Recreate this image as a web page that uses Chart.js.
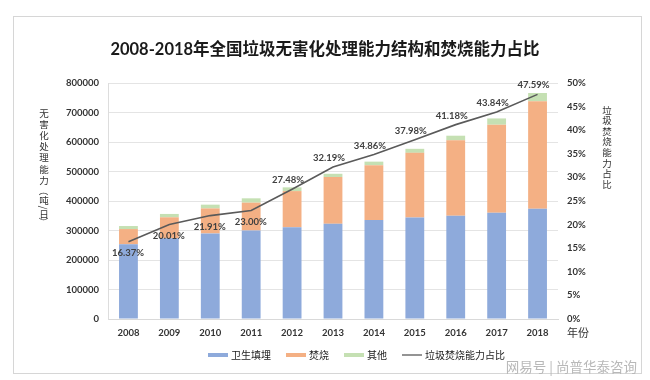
<!DOCTYPE html>
<html><head><meta charset="utf-8">
<script src="https://cdn.jsdelivr.net/npm/chart.js@4.4.1/dist/chart.umd.min.js"></script>
<style>html,body{margin:0;padding:0;background:#fff}canvas{display:block}</style>
</head><body>
<canvas id="c" width="650" height="380"></canvas>
<script>
// ---- data ----
const years = ['2008','2009','2010','2011','2012','2013','2014','2015','2016','2017','2018'];
const landfill = [253268, 273498, 289957, 300195, 310927, 322782, 335316, 344135, 349751, 360524, 373498];
const incineration = [51606, 71253, 84940, 94114, 122649, 158488, 185957, 219080, 255850, 298062, 364595];
const other = [10279, 11379, 12710, 14810, 12692, 11030, 12182, 13679, 15750, 21303, 28102];
const ratio = [16.37, 20.01, 21.91, 23.00, 27.48, 32.19, 34.86, 37.98, 41.18, 43.84, 47.59];
const seriesNames = ['卫生填埋', '焚烧', '其他', '垃圾焚烧能力占比'];
const chartTitle = '2008-2018年全国垃圾无害化处理能力结构和焚烧能力占比';
const leftAxisTitle = '无害化处理能力（吨/日）';
const rightAxisTitle = '垃圾焚烧能力占比';
const xAxisTitle = '年份';
const watermark = '网易号 | 尚普华泰咨询';

// ---- styles ----
const BLUE = '#8eaadb', ORANGE = '#f4b084', GREEN = '#c5e0b3', LINE = '#5a5a5a';
const CJK = "'Noto Sans CJK SC'";
const LAT = "Lato, 'Noto Sans CJK SC'";
const TXT = '#333333';

const decor = {
  id: 'decor',
  afterDraw(chart) {
    const c = chart.ctx;
    c.save();
    // outer frame
    c.strokeStyle = '#d6d6d6'; c.lineWidth = 1;
    c.strokeRect(13.5, 16.5, 628, 357);

    // left vertical axis title (upright stacked characters)
    c.fillStyle = TXT; c.textAlign = 'center'; c.textBaseline = 'middle';
    c.font = `9.5px ${CJK}`;
    const lpos = [113, 124.2, 135.4, 146.6, 157.8, 169, 180.2, 191, 200.5, 207.5, 214, 222];
    [...leftAxisTitle].forEach((ch, i) => {
      if (ch === '（' || ch === '）' || ch === '/') {
        c.save();
        c.translate(44, lpos[i]);
        c.rotate(Math.PI / 2);
        c.fillText(ch, 0, 0);
        c.restore();
      } else {
        c.fillText(ch, 44, lpos[i]);
      }
    });
    // right vertical axis title
    [...rightAxisTitle].forEach((ch, i) => {
      c.fillText(ch, 607, 110 + i * 10.6);
    });
    // x axis unit
    c.font = `11px ${CJK}`;
    c.fillText(xAxisTitle, 578, 333);

    // line value labels
    const meta = chart.getDatasetMeta(3);
    c.font = `bold 9.5px ${LAT}`; c.fillStyle = '#404040';
    meta.data.forEach((pt, i) => {
      const txt = ratio[i].toFixed(2) + '%';
      if (i < 4) c.fillText(txt, pt.x - 0.5, pt.y + 11);
      else c.fillText(txt, pt.x - 4, pt.y - 9);
    });

    // legend
    const colors = [BLUE, ORANGE, GREEN, LINE];
    let x = 208; const y = 355;
    c.font = `10px ${CJK}`; c.textAlign = 'left'; c.textBaseline = 'middle';
    seriesNames.forEach((name, i) => {
      if (i === 3) {
        c.strokeStyle = LINE; c.lineWidth = 1.3;
        c.beginPath(); c.moveTo(x, y); c.lineTo(x + 20, y); c.stroke();
      } else {
        c.fillStyle = colors[i]; c.fillRect(x, y - 2, 20, 4);
      }
      x += 23;
      c.fillStyle = '#222';
      c.fillText(name, x, y);
      x += c.measureText(name).width + 15;
    });

    // watermark
    c.font = `13.5px ${CJK}`; c.fillStyle = '#b8b8b8'; c.textAlign = 'right';
    c.fillText(watermark, 637, 367);
    c.restore();
  }
};

new Chart(document.getElementById('c'), {
  type: 'bar',
  data: {
    labels: years,
    datasets: [
      {label: seriesNames[0], data: landfill, backgroundColor: BLUE, order: 1, categoryPercentage: 0.5, barPercentage: 0.92},
      {label: seriesNames[1], data: incineration, backgroundColor: ORANGE, order: 1, categoryPercentage: 0.5, barPercentage: 0.92},
      {label: seriesNames[2], data: other, backgroundColor: GREEN, order: 1, categoryPercentage: 0.5, barPercentage: 0.92},
      {type: 'line', label: seriesNames[3], data: ratio, yAxisID: 'y1', borderColor: LINE, borderWidth: 1.6,
       pointRadius: 0, tension: 0, fill: false, order: 0}
    ]
  },
  options: {
    responsive: false, animation: false,
    layout: {padding: {left: 0, right: 0, top: 0, bottom: 41}},
    plugins: {
      legend: {display: false},
      tooltip: {enabled: false},
      title: {display: true, text: chartTitle, color: '#1a1a1a',
        font: {family: LAT, size: 16.5, weight: 'bold', lineHeight: 1.2},
        padding: {top: 40, bottom: 23.2}}
    },
    scales: {
      x: {
        stacked: true,
        grid: {display: false, drawTicks: false},
        border: {color: '#d9d9d9'},
        ticks: {color: TXT, font: {family: LAT, size: 9.5, weight: 'bold'}, padding: 8, maxRotation: 0},
        afterFit: s => { s.height = 20; }
      },
      y: {
        stacked: true, min: 0, max: 800000,
        ticks: {stepSize: 100000, callback: v => String(v), color: TXT, font: {family: LAT, size: 9.5, weight: 'bold'}, padding: 9},
        grid: {color: '#e4e4e4', drawTicks: false},
        border: {color: '#dddddd'},
        afterFit: s => { s.width = 108; }
      },
      y1: {
        position: 'right', min: 0, max: 50,
        ticks: {stepSize: 5, callback: v => v + '%', color: TXT, font: {family: LAT, size: 9.5, weight: 'bold'}, padding: 9},
        grid: {display: false, drawTicks: false},
        border: {display: false},
        afterFit: s => { s.width = 92; }
      }
    }
  },
  plugins: [decor]
});
</script>
</body></html>
